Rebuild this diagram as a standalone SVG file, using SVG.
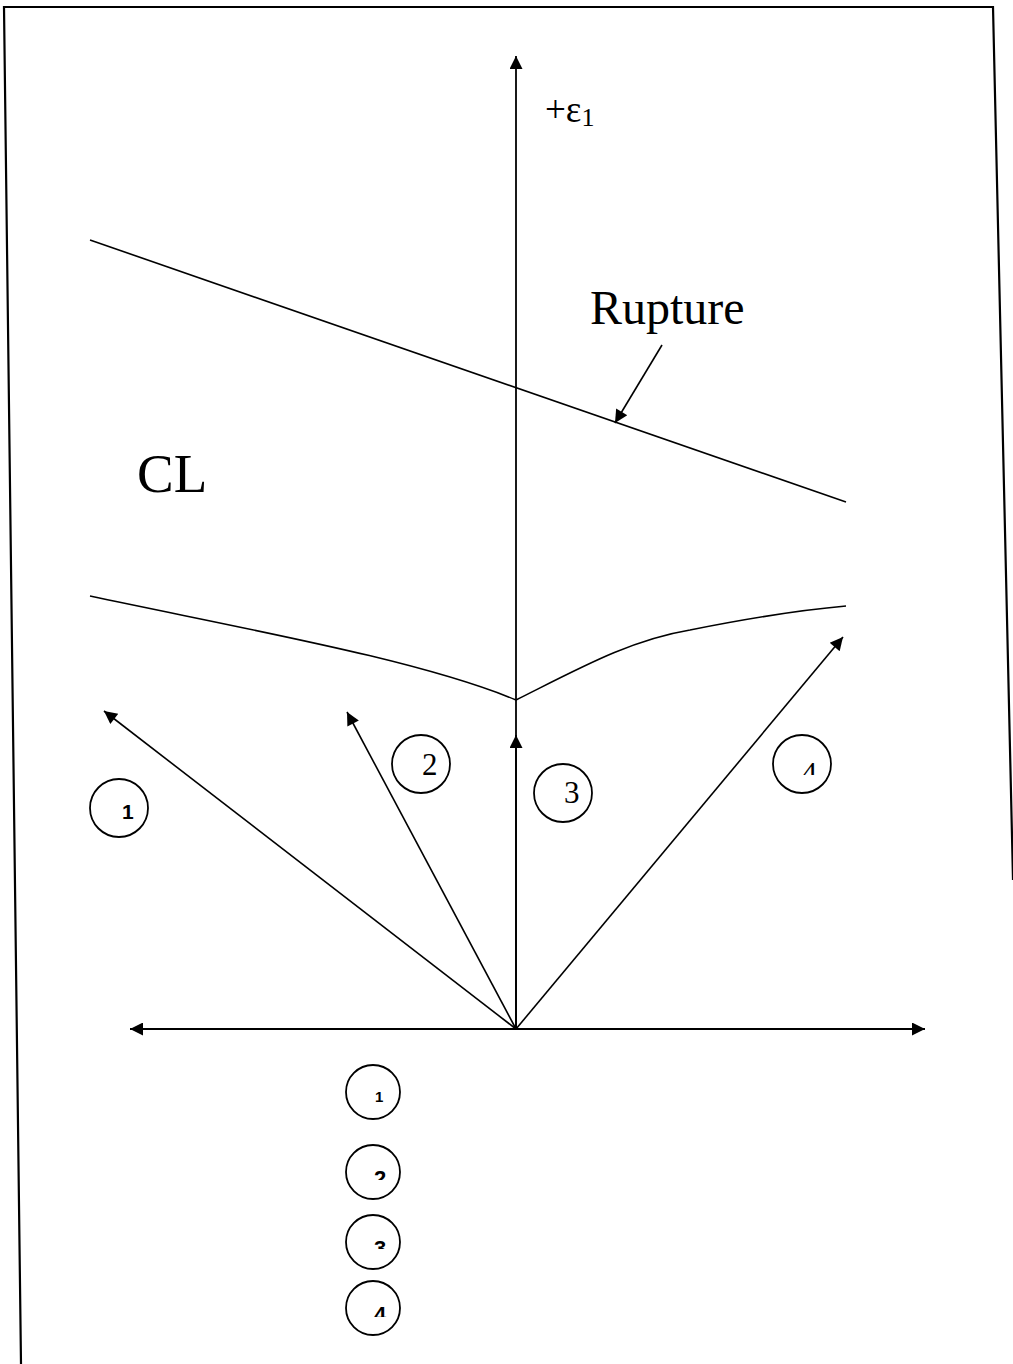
<svg xmlns="http://www.w3.org/2000/svg" width="1013" height="1364" viewBox="0 0 1013 1364">
<style>
.ln{stroke:#000;stroke-width:1.6;fill:none}
.ax{stroke:#000;stroke-width:1.8;fill:none}
.cir{stroke:#000;stroke-width:1.8;fill:none}
.serif{font-family:"Liberation Serif","Times New Roman",serif;fill:#000}
.sans{font-family:"Liberation Sans",Arial,sans-serif;fill:#000;font-weight:bold}
</style>
<defs>
<marker id="ah" viewBox="0 0 10 10" refX="10" refY="5" markerWidth="17" markerHeight="13" markerUnits="userSpaceOnUse" orient="auto-start-reverse">
<path d="M0,0 L10,5 L0,10 z" fill="#000"/>
</marker>
<clipPath id="c4"><rect x="790" y="740" width="40" height="35"/></clipPath>
<clipPath id="cb2"><rect x="360" y="1160" width="40" height="20"/></clipPath>
<clipPath id="cb3"><rect x="360" y="1230" width="40" height="19"/></clipPath>
<clipPath id="cb4"><rect x="360" y="1295" width="40" height="22"/></clipPath>
</defs>
<g id="frame">
<path d="M21,1364 L4,7 L993,7 L1013,880" fill="none" stroke="#000" stroke-width="2.2"/>
</g>
<g id="connectors">
<line class="ax" x1="516" y1="1029" x2="516" y2="56" marker-end="url(#ah)"/>
<line class="ax" x1="130" y1="1029" x2="925" y2="1029" marker-start="url(#ah)" marker-end="url(#ah)"/>
<line class="ln" x1="516" y1="1029" x2="104" y2="711" marker-end="url(#ah)"/>
<line class="ln" x1="516" y1="1029" x2="347" y2="712" marker-end="url(#ah)"/>
<line class="ax" x1="516" y1="1029" x2="516" y2="735" stroke-width="2.6" marker-end="url(#ah)"/>
<line class="ln" x1="516" y1="1029" x2="843" y2="637" marker-end="url(#ah)"/>
<line class="ln" x1="662" y1="345" x2="615" y2="423" marker-end="url(#ah)"/>
</g>
<g id="rupture-line">
<line class="ln" x1="90" y1="240" x2="846" y2="502"/>
</g>
<g id="cl-lower-curve">
<path class="ln" d="M90,596 C250,630 420,660 516,700 C580,668 630,640 690,630 C760,616 800,610 846,606"/>
</g>
<g id="label-eps">
<text class="serif" x="545" y="122" font-size="37">+ε<tspan font-size="26" dy="4">1</tspan></text>
</g>
<g id="label-rupture">
<text class="serif" x="590" y="324" font-size="48">Rupture</text>
</g>
<g id="label-cl">
<text class="serif" x="137" y="492" font-size="55">CL</text>
</g>
<g id="c1">
<circle class="cir" cx="119" cy="808" r="29"/>
<text class="sans" x="122" y="819" font-size="21" font-weight="normal">1</text>
</g>
<g id="c2">
<circle class="cir" cx="421" cy="764" r="29"/>
<text class="serif" x="422" y="775" font-size="31">2</text>
</g>
<g id="c3">
<circle class="cir" cx="563" cy="793" r="29"/>
<text class="serif" x="564" y="803" font-size="31">3</text>
</g>
<g id="c4n">
<circle class="cir" cx="802" cy="764" r="29"/>
<text class="serif" x="802" y="782" font-size="30" clip-path="url(#c4)">4</text>
</g>
<g id="b1">
<circle class="cir" cx="373" cy="1092" r="27"/>
<text class="sans" x="375" y="1102" font-size="15">1</text>
</g>
<g id="b2">
<circle class="cir" cx="373" cy="1172" r="27"/>
<text class="sans" x="374" y="1186" font-size="22" clip-path="url(#cb2)">2</text>
</g>
<g id="b3">
<circle class="cir" cx="373" cy="1242" r="27"/>
<text class="sans" x="374" y="1256" font-size="22" clip-path="url(#cb3)">3</text>
</g>
<g id="b4">
<circle class="cir" cx="373" cy="1308" r="27"/>
<text class="sans" x="374" y="1322" font-size="22" clip-path="url(#cb4)">4</text>
</g>
</svg>
